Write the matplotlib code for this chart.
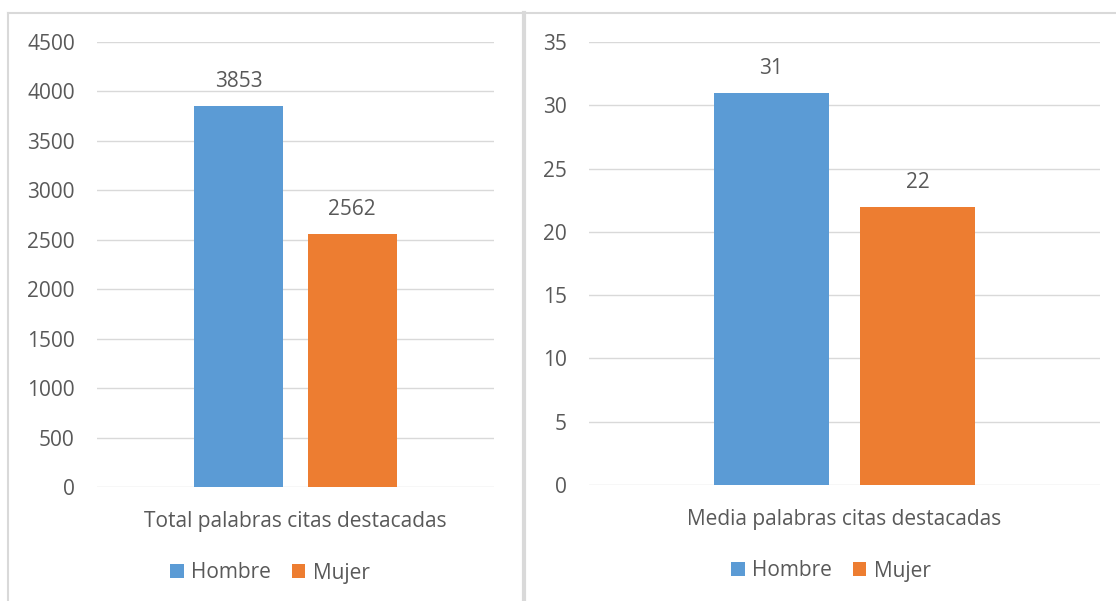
import matplotlib.pyplot as plt
from matplotlib.lines import Line2D

# data
series = ["Hombre", "Mujer"]
colors = ["#5b9bd5", "#ed7d31"]
total_label = "Total palabras citas destacadas"
total_values = [3853, 2562]
total_ticks = [0, 500, 1000, 1500, 2000, 2500, 3000, 3500, 4000, 4500]
media_label = "Media palabras citas destacadas"
media_values = [31, 22]
media_ticks = [0, 5, 10, 15, 20, 25, 30, 35]

plt.rcParams['font.family'] = ['Open Sans', 'DejaVu Sans']
text_color = '#595959'
grid_color = '#d9d9d9'
fs = 15

W, H = 1116, 601
fig = plt.figure(figsize=(W / 100, H / 100), dpi=100)


def px(x0, y0, x1, y1):
    return [x0 / W, 1 - y1 / H, (x1 - x0) / W, (y1 - y0) / H]


def panel(rect, values, ticks, label):
    ax = fig.add_axes(rect)
    offsets = [-0.143, 0.143]
    for off, v, c, s in zip(offsets, values, colors, series):
        ax.bar(off, v, width=0.225, color=c, label=s, zorder=2)
        ax.annotate(str(v), (off, v), xytext=(0, 10), textcoords='offset points',
                    ha='center', va='bottom', fontsize=fs, color=text_color)
    ax.set_xlim(-0.5, 0.5)
    ax.set_ylim(ticks[0], ticks[-1])
    ax.set_yticks(ticks)
    ax.set_xticks([])
    for t in ticks:
        ax.axhline(t, color=grid_color, lw=1.0, zorder=1)
    for sp in ax.spines.values():
        sp.set_visible(False)
    ax.tick_params(axis='y', length=0, pad=16, labelsize=fs, labelcolor=text_color)
    ax.set_xlabel(label, fontsize=fs, color=text_color, labelpad=17)
    ax.legend(loc='center', bbox_to_anchor=(0.5, 1 - 573 / H), bbox_transform=fig.transFigure,
              ncol=2, frameon=False,
              fontsize=fs, labelcolor=text_color, handlelength=0.65, handleheight=0.65,
              handletextpad=0.35, columnspacing=1.0)
    return ax


panel(px(97, 42, 494, 487), total_values, total_ticks, total_label)
panel(px(589, 42, 1100, 485), media_values, media_ticks, media_label)
fig.axes[0].get_legend().set_bbox_to_anchor((270 / W, 1 - 573 / H), transform=fig.transFigure)
fig.axes[1].get_legend().set_bbox_to_anchor((831 / W, 1 - 571 / H), transform=fig.transFigure)

# panel borders
def fline(x0, y0, x1, y1, lw=1.5):
    fig.add_artist(Line2D([x0 / W, x1 / W], [1 - y0 / H, 1 - y1 / H],
                          color=grid_color, lw=lw, transform=fig.transFigure))

fline(8, 13, 1116, 13)
fline(8, 13, 8, 601)
fline(523.5, 13, 523.5, 601, lw=3)

fig.savefig('out.png', dpi=100)
